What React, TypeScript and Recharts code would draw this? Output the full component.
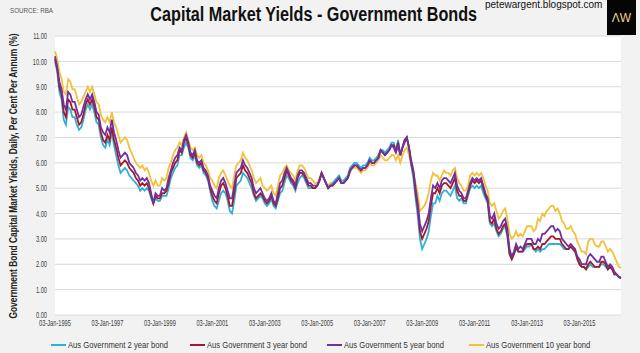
import React from "react";
import { LineChart, Line, XAxis, YAxis, CartesianGrid } from "recharts";

// monthly readings, Jan-1995 .. Aug-2016
const START_YEAR = 1995;
const MONTHS = ["Jan", "Feb", "Mar", "Apr", "May", "Jun", "Jul", "Aug", "Sep", "Oct", "Nov", "Dec"];

const y2 = [
  10.0, 9.6, 8.8, 8.5, 7.7, 7.5, 8.2, 8.1, 7.8, 7.8, 7.5, 7.3,
  7.4, 7.7, 8.1, 8.3, 8.1, 8.3, 8.0, 7.6, 7.5, 7.0, 6.7, 6.6,
  6.9, 6.7, 7.2, 6.7, 6.3, 5.9, 5.6, 5.7, 5.8, 5.7, 5.5, 5.4,
  5.3, 5.2, 5.1, 4.9, 5.0, 4.9, 5.0, 4.9, 4.6, 4.4, 4.6, 4.5,
  4.5, 4.7, 4.7, 4.7, 5.0, 5.4, 5.6, 5.8, 5.9, 6.3, 6.3, 6.6,
  6.8, 6.6, 6.2, 6.1, 6.3, 5.9, 5.8, 5.9, 5.6, 5.5, 5.3, 4.9,
  4.5, 4.3, 4.2, 4.5, 4.8, 4.9, 4.8, 4.5, 4.1, 4.0, 4.5, 5.1,
  5.2, 5.3, 5.6, 5.5, 5.4, 5.2, 5.0, 4.7, 4.5, 4.6, 4.7, 4.6,
  4.4, 4.3, 4.4, 4.6, 4.3, 4.2, 4.5, 4.8, 4.9, 5.2, 5.5, 5.4,
  5.2, 5.1, 4.9, 5.2, 5.4, 5.5, 5.4, 5.2, 5.0, 5.0, 5.0, 5.0,
  5.1, 5.3, 5.6, 5.4, 5.2, 5.0, 5.1, 5.2, 5.3, 5.4, 5.5, 5.3,
  5.3, 5.4, 5.5, 5.8, 5.9, 6.0, 6.0, 5.9, 5.8, 5.9, 5.9, 6.0,
  6.2, 6.1, 6.1, 6.2, 6.3, 6.5, 6.5, 6.4, 6.5, 6.6, 6.8, 6.8,
  6.5, 6.9, 6.3, 6.6, 6.9, 7.0, 6.6, 5.9, 5.4, 4.6, 3.9, 3.0,
  2.6, 2.8, 3.0, 3.3, 3.9, 4.4, 4.4, 4.7, 4.5, 4.8, 4.9, 4.9,
  4.8, 4.7, 4.9, 5.1, 4.6, 4.5, 4.6, 4.4, 4.4, 4.7, 5.0, 5.1,
  5.0, 5.1, 5.0, 5.1, 4.8, 4.6, 4.4, 3.6, 3.5, 3.6, 3.3, 3.1,
  3.2, 3.4, 3.5, 3.1, 2.4, 2.2, 2.4, 2.6, 2.5, 2.5, 2.5, 2.6,
  2.7, 2.7, 2.8, 2.6, 2.5, 2.6, 2.5, 2.6, 2.6, 2.7, 2.8, 2.8,
  2.8, 2.8, 2.8, 2.8, 2.7, 2.6, 2.6, 2.6, 2.7, 2.6, 2.5, 2.3,
  2.0, 1.9, 1.9, 1.8, 1.9, 2.0, 1.9, 1.9, 1.9, 1.9, 2.0, 2.0,
  1.9, 1.8, 1.9, 1.8, 1.6, 1.6, 1.5, 1.5,
];

const y3 = [
  10.1, 9.7, 9.0, 8.7, 8.0, 7.8, 8.5, 8.4, 8.1, 8.1, 7.8, 7.5,
  7.6, 7.9, 8.3, 8.5, 8.3, 8.5, 8.2, 7.8, 7.7, 7.2, 6.9, 6.8,
  7.1, 6.9, 7.4, 6.9, 6.6, 6.2, 5.9, 6.0, 6.1, 6.0, 5.8, 5.7,
  5.6, 5.4, 5.3, 5.1, 5.2, 5.1, 5.2, 5.0, 4.7, 4.4, 4.7, 4.6,
  4.6, 4.8, 4.8, 4.9, 5.2, 5.6, 5.8, 6.0, 6.1, 6.5, 6.4, 6.8,
  7.0, 6.7, 6.3, 6.2, 6.4, 6.0, 5.9, 6.0, 5.7, 5.6, 5.4, 5.0,
  4.7, 4.5, 4.4, 4.8, 5.1, 5.2, 5.0, 4.7, 4.3, 4.3, 4.8, 5.4,
  5.5, 5.6, 5.9, 5.7, 5.6, 5.4, 5.2, 4.8, 4.6, 4.7, 4.8, 4.7,
  4.5, 4.4, 4.5, 4.7, 4.4, 4.3, 4.6, 5.0, 5.1, 5.4, 5.7, 5.5,
  5.3, 5.2, 5.0, 5.4, 5.6, 5.6, 5.5, 5.3, 5.1, 5.1, 5.0, 5.0,
  5.1, 5.3, 5.6, 5.4, 5.2, 5.0, 5.1, 5.1, 5.2, 5.3, 5.4, 5.2,
  5.2, 5.3, 5.4, 5.7, 5.8, 5.9, 5.9, 5.8, 5.7, 5.8, 5.8, 5.9,
  6.1, 6.0, 6.0, 6.1, 6.2, 6.5, 6.4, 6.3, 6.4, 6.5, 6.7, 6.7,
  6.4, 6.8, 6.3, 6.6, 6.9, 7.0, 6.6, 6.0, 5.6, 4.8, 4.2, 3.3,
  3.0, 3.2, 3.4, 3.7, 4.3, 4.8, 4.8, 5.0, 4.8, 5.1, 5.2, 5.2,
  5.1, 5.0, 5.2, 5.4, 4.9, 4.7, 4.7, 4.5, 4.5, 4.8, 5.1, 5.3,
  5.2, 5.3, 5.2, 5.3, 5.0, 4.7, 4.5, 3.7, 3.6, 3.8, 3.4, 3.2,
  3.3, 3.5, 3.6, 3.2, 2.4, 2.2, 2.4, 2.7, 2.5, 2.5, 2.5, 2.7,
  2.8, 2.8, 2.8, 2.6, 2.6, 2.7, 2.6, 2.8, 2.8, 2.9, 3.0, 3.1,
  3.1, 3.0, 3.0, 3.0, 2.8, 2.7, 2.6, 2.6, 2.7, 2.6, 2.5, 2.2,
  2.0, 1.9, 1.9, 1.8, 2.0, 2.1, 2.0, 1.9, 1.9, 1.9, 2.1, 2.1,
  2.0, 1.8, 1.9, 1.8, 1.6, 1.6, 1.5, 1.45,
];

const y5 = [
  10.2, 9.8, 9.2, 8.9, 8.3, 8.1, 8.8, 8.7, 8.4, 8.4, 8.1, 7.8,
  7.9, 8.2, 8.5, 8.7, 8.5, 8.7, 8.4, 8.0, 7.9, 7.4, 7.2, 7.1,
  7.4, 7.2, 7.7, 7.2, 6.9, 6.5, 6.2, 6.3, 6.4, 6.3, 6.0, 5.9,
  5.8, 5.6, 5.5, 5.3, 5.4, 5.3, 5.4, 5.2, 4.8, 4.4, 4.8, 4.7,
  4.7, 5.0, 4.9, 5.0, 5.4, 5.7, 6.0, 6.2, 6.3, 6.6, 6.5, 6.9,
  7.1, 6.8, 6.4, 6.3, 6.5, 6.1, 6.0, 6.1, 5.8, 5.7, 5.5, 5.1,
  4.9, 4.7, 4.6, 5.0, 5.3, 5.4, 5.2, 4.9, 4.6, 4.6, 5.1, 5.6,
  5.7, 5.8, 6.1, 5.9, 5.8, 5.6, 5.4, 5.0, 4.8, 4.9, 5.0, 4.8,
  4.6, 4.5, 4.6, 4.8, 4.5, 4.4, 4.8, 5.2, 5.3, 5.6, 5.8, 5.6,
  5.4, 5.3, 5.1, 5.5, 5.7, 5.7, 5.6, 5.4, 5.2, 5.2, 5.1, 5.1,
  5.1, 5.3, 5.6, 5.4, 5.2, 5.0, 5.1, 5.1, 5.2, 5.3, 5.4, 5.2,
  5.2, 5.3, 5.4, 5.7, 5.8, 5.9, 5.9, 5.8, 5.7, 5.8, 5.8, 5.9,
  6.1, 6.0, 6.0, 6.1, 6.2, 6.5, 6.4, 6.3, 6.4, 6.5, 6.7, 6.6,
  6.4, 6.7, 6.3, 6.6, 6.8, 7.0, 6.6, 6.1, 5.7, 5.0, 4.4, 3.6,
  3.3, 3.5, 3.7, 4.0, 4.6, 5.1, 5.0, 5.2, 5.0, 5.3, 5.4, 5.4,
  5.3, 5.2, 5.4, 5.6, 5.1, 4.9, 4.8, 4.6, 4.6, 4.9, 5.2, 5.4,
  5.3, 5.4, 5.3, 5.4, 5.1, 4.8, 4.6, 3.9, 3.8, 4.0, 3.6, 3.4,
  3.5, 3.7, 3.8, 3.4, 2.6, 2.3, 2.5, 2.8, 2.6, 2.7, 2.6, 2.8,
  3.0, 3.0, 3.0, 2.8, 2.8, 3.0, 2.9, 3.2, 3.2, 3.3, 3.4, 3.5,
  3.5, 3.3, 3.4, 3.3, 3.0, 2.9, 2.8, 2.7, 2.8, 2.7, 2.6, 2.3,
  2.2, 2.0, 2.0, 2.0, 2.3, 2.4, 2.3, 2.2, 2.1, 2.1, 2.3, 2.3,
  2.1, 1.9, 2.0, 1.9, 1.7, 1.6, 1.5, 1.45,
];

const y10 = [
  10.4, 10.1, 9.6, 9.3, 8.8, 8.7, 9.3, 9.2, 8.9, 8.9, 8.6, 8.3,
  8.4, 8.6, 8.8, 9.0, 8.8, 9.0, 8.7, 8.4, 8.3, 7.9, 7.7, 7.6,
  7.8, 7.6, 8.0, 7.6, 7.4, 7.1, 6.8, 6.9, 7.0, 6.9, 6.6, 6.4,
  6.2, 6.0, 5.9, 5.8, 5.9, 5.7, 5.8, 5.6, 5.3, 5.1, 5.3, 5.1,
  5.1, 5.4, 5.3, 5.4, 5.8, 6.0, 6.3, 6.5, 6.6, 6.8, 6.7, 7.0,
  7.2, 6.9, 6.6, 6.5, 6.6, 6.3, 6.2, 6.3, 6.0, 5.9, 5.7, 5.4,
  5.3, 5.1, 5.0, 5.4, 5.6, 5.7, 5.5, 5.3, 5.1, 5.0, 5.5, 5.9,
  6.0, 6.1, 6.4, 6.2, 6.1, 5.9, 5.7, 5.4, 5.2, 5.3, 5.4, 5.1,
  5.0, 4.9, 5.0, 5.1, 4.8, 4.7, 5.1, 5.5, 5.6, 5.8, 5.9, 5.7,
  5.6, 5.5, 5.3, 5.7, 5.9, 5.9, 5.8, 5.6, 5.4, 5.4, 5.3, 5.2,
  5.2, 5.4, 5.6, 5.4, 5.2, 5.1, 5.2, 5.2, 5.3, 5.4, 5.4, 5.2,
  5.2, 5.3, 5.4, 5.6, 5.8, 5.8, 5.8, 5.7, 5.6, 5.7, 5.7, 5.8,
  6.0, 5.9, 5.9, 6.0, 6.1, 6.3, 6.2, 6.1, 6.1, 6.2, 6.3, 6.3,
  6.1, 6.3, 6.0, 6.3, 6.5, 6.6, 6.3, 5.9, 5.6, 5.2, 4.8, 4.1,
  4.2, 4.3, 4.5, 4.8, 5.3, 5.6, 5.5, 5.5, 5.3, 5.5, 5.7, 5.6,
  5.6, 5.5, 5.7, 5.8, 5.4, 5.2, 5.1, 4.9, 4.9, 5.1, 5.5, 5.6,
  5.5, 5.6, 5.5, 5.6, 5.4, 5.1, 4.9, 4.4, 4.3, 4.4, 4.1, 3.8,
  3.9, 4.1, 4.2, 3.8, 3.2, 3.0, 3.1, 3.3, 3.1, 3.2, 3.1, 3.3,
  3.5, 3.5, 3.5, 3.3, 3.4, 3.8, 3.7, 4.0, 3.9, 4.1, 4.2, 4.3,
  4.3, 4.1, 4.2, 4.0, 3.7, 3.6, 3.4, 3.4, 3.5, 3.3, 3.2, 2.9,
  2.7, 2.5, 2.5, 2.4, 2.9, 3.0, 3.0, 2.8, 2.7, 2.7, 2.9, 2.9,
  2.7, 2.5, 2.6, 2.5, 2.3, 2.1, 1.9, 1.85,
];

const X_TICKS = [
  "03-Jan-1995", "03-Jan-1997", "03-Jan-1999", "03-Jan-2001", "03-Jan-2003", "03-Jan-2005",
  "03-Jan-2007", "03-Jan-2009", "03-Jan-2011", "03-Jan-2013", "03-Jan-2015",
];
const Y_TICKS = [0, 0.5, 1, 1.5, 2, 2.5, 3, 3.5, 4, 4.5, 5, 5.5, 6, 6.5, 7, 7.5, 8, 8.5, 9, 9.5, 10, 10.5, 11];

const SERIES = [
  { key: "y10", name: "Aus Government 10 year bond", color: "#f2c13a" },
  { key: "y2", name: "Aus Government 2 year bond", color: "#2fb0da" },
  { key: "y3", name: "Aus Government 3 year bond", color: "#a3192c" },
  { key: "y5", name: "Aus Government 5 year bond", color: "#7030a0" },
];
const LEGEND_ORDER = ["y2", "y3", "y5", "y10"];

const data = y2.map((_, i) => {
  const year = START_YEAR + Math.floor(i / 12);
  const m = MONTHS[i % 12];
  return {
    d: m === "Jan" ? `03-Jan-${year}` : `${m}-${year}`,
    y2: y2[i],
    y3: y3[i],
    y5: y5[i],
    y10: y10[i],
  };
});

const FONT = "'Liberation Sans', Arial, sans-serif";

// Excel used a narrow face; squeeze Liberation Sans horizontally instead
const XTick = ({ x, y, payload }: any) => (
  <g transform={`translate(${x},${y})`}>
    <text transform="scale(0.63,1)" textAnchor="middle" dy="0.71em" fontSize={9} fill="#404040" fontFamily={FONT}>
      {payload.value}
    </text>
  </g>
);

const YTick = ({ x, y, payload }: any) => (
  <g transform={`translate(${x},${y})`}>
    <text transform="scale(0.63,1)" textAnchor="end" dy="0.35em" fontSize={9} fill="#404040" fontFamily={FONT}>
      {payload.value.toFixed(2)}
    </text>
  </g>
);

const squeeze = (s: number, origin = "left center"): React.CSSProperties => ({
  display: "inline-block",
  transform: `scaleX(${s})`,
  transformOrigin: origin,
  whiteSpace: "nowrap",
});

export default function App() {
  return (
    <div style={{ position: "relative", width: 640, height: 353, background: "#f2f2f2", overflow: "hidden", fontFamily: FONT }}>
      <style>{"body{margin:0}"}</style>
      <div style={{ position: "absolute", left: 10, top: 6, fontSize: 8, color: "#555" }}>
        <span style={squeeze(0.78)}>SOURCE: RBA</span>
      </div>
      <div style={{ position: "absolute", left: 0, top: 3, width: 628, textAlign: "center", fontSize: 20, fontWeight: "bold", color: "#111" }}>
        <span style={squeeze(0.81, "center center")}>Capital Market Yields - Government Bonds</span>
      </div>
      <div style={{ position: "absolute", left: 485, top: -1, fontSize: 10, color: "#111", whiteSpace: "nowrap" }}>
        petewargent.blogspot.com
      </div>
      <div style={{ position: "absolute", left: 607, top: 0, width: 29, height: 35, background: "#050505", color: "#e9d38c", fontSize: 12, display: "flex", alignItems: "center", justifyContent: "center" }}>
        ΛW
      </div>
      <div style={{ position: "absolute", left: 14, top: 176, width: 400, marginLeft: -200, marginTop: -6, height: 12, lineHeight: "12px", textAlign: "center", transform: "rotate(-90deg) scaleX(0.84)", fontSize: 10, fontWeight: "bold", color: "#222", whiteSpace: "nowrap" }}>
        Government Bond Capital Market Yields, Daily, Per Cent Per Annum (%)
      </div>

      <LineChart width={640} height={353} data={data} margin={{ top: 36, right: 19, bottom: 8, left: 0 }} style={{ position: "absolute", left: 0, top: 0 }}>
        <CartesianGrid vertical={false} stroke="#d9d9d9" fill="#ffffff" />
        <XAxis
          dataKey="d"
          ticks={X_TICKS}
          interval={0}
          height={30}
          tickLine={false}
          axisLine={false}
          tickSize={0}
          tickMargin={5}
          tick={<XTick />}
        />
        <YAxis
          domain={[0, 11]}
          ticks={Y_TICKS}
          width={55}
          tickLine={false}
          axisLine={false}
          tickSize={0}
          tickMargin={8}
          tick={<YTick />}
        />
        {SERIES.map((s) => (
          <Line
            key={s.key}
            type="linear"
            dataKey={s.key}
            name={s.name}
            stroke={s.color}
            strokeWidth={1.8}
            dot={false}
            isAnimationActive={false}
          />
        ))}
      </LineChart>

      {LEGEND_ORDER.map((k, i) => {
        const s = SERIES.find((x) => x.key === k)!;
        const left = [51, 190, 327, 469][i];
        return (
          <div key={k} style={{ position: "absolute", left, top: 339, height: 12, display: "flex", alignItems: "center", fontSize: 9, color: "#333", whiteSpace: "nowrap" }}>
            <span style={{ display: "inline-block", width: 15, height: 1.5, background: s.color, marginRight: 2 }} />
            <span style={squeeze(0.85)}>{s.name}</span>
          </div>
        );
      })}
    </div>
  );
}
